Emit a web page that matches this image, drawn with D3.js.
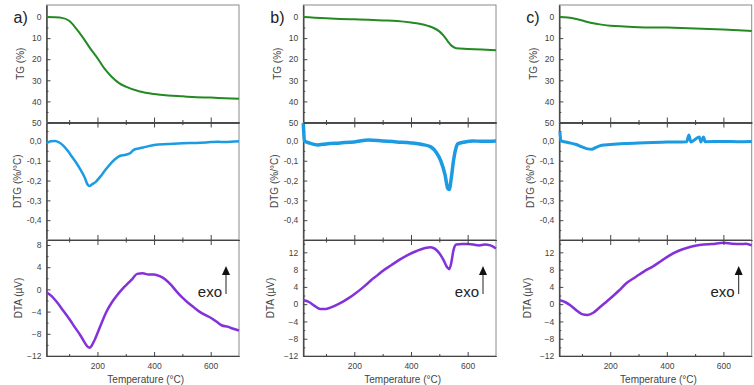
<!DOCTYPE html>
<html>
<head>
<meta charset="utf-8">
<script src="https://cdnjs.cloudflare.com/ajax/libs/d3/7.8.5/d3.min.js"></script>
<style>
body { margin: 0; background: #fff; }
svg text { font-family: "Liberation Sans", Arial, sans-serif; }
</style>
</head>
<body>
<div id="chart"></div>
<script>
// readings: [temperature (°C), value]
var tgA = [[20,0],[50,0.1],[75,0.4],[100,1.8],[125,5.5],[150,10],[175,15],[200,19.5],[225,24.5],[250,28.3],
           [275,31.2],[300,33],[350,35.3],[400,36.5],[450,37.2],[500,37.6],[550,38],[600,38.2],[650,38.5],[700,38.7]];
var tgB = [[20,0],[60,0.3],[100,0.6],[150,0.9],[200,1.1],[250,1.3],[300,1.6],[350,1.9],[400,2.6],[430,3.2],
           [460,4.2],[480,5.2],[500,6.8],[515,8.8],[530,11.5],[545,13.8],[560,14.8],[600,15.1],[650,15.4],[700,15.8]];
var tgC = [[22,0],[50,0.2],[80,0.9],[110,2.0],[140,3.0],[170,3.6],[200,4.1],[250,4.5],[300,4.8],[400,5.0],
           [500,5.4],[600,5.9],[700,6.6]];

var dtgA = [[20,-0.012],[35,-0.002],[50,0],[65,-0.008],[80,-0.025],[95,-0.05],[110,-0.08],[125,-0.11],[140,-0.145],
            [155,-0.185],[165,-0.22],[172,-0.228],[180,-0.22],[195,-0.205],[210,-0.18],[225,-0.152],[240,-0.125],
            [260,-0.095],[280,-0.075],[300,-0.07],[315,-0.062],[328,-0.045],[345,-0.038],[370,-0.03],[400,-0.02],
            [450,-0.016],[500,-0.012],[550,-0.01],[600,-0.006],[625,-0.004],[650,-0.006],[700,-0.002]];
var dtgB = [[20,0.09],[24,0.0],[40,-0.01],[70,-0.02],[100,-0.015],[150,-0.01],[200,-0.005],[250,0.005],[300,0.0],
            [350,-0.005],[400,-0.01],[440,-0.018],[470,-0.03],[490,-0.06],[505,-0.1],[520,-0.17],[530,-0.24],
            [535,-0.245],[542,-0.19],[550,-0.1],[558,-0.04],[565,-0.015],[590,-0.005],[620,0.0],[650,-0.002],[700,0.0]];
var dtgC = [[22,0.05],[26,0.0],[50,-0.008],[80,-0.018],[100,-0.03],[120,-0.04],[135,-0.042],[150,-0.032],[170,-0.022],
            [200,-0.018],[250,-0.013],[300,-0.01],[350,-0.008],[400,-0.006],[470,-0.004],[478,0.03],[485,-0.005],
            [515,0.02],[520,-0.005],[530,0.02],[535,-0.004],[600,-0.003],[650,-0.004],[700,-0.003]];

var dtaA = [[20,-0.5],[40,-1.3],[60,-2.5],[80,-3.9],[100,-5.3],[120,-6.8],[140,-8.3],[155,-9.6],[165,-10.3],[172,-10.5],
            [180,-10.1],[190,-9.1],[200,-7.9],[215,-6],[230,-4.2],[250,-2.4],[270,-1],[290,0.2],[310,1.2],[325,2],
            [340,2.8],[360,2.9],[380,2.7],[400,2.7],[420,2.4],[440,1.8],[460,0.8],[480,-0.4],[500,-1.5],[520,-2.4],
            [540,-3.2],[560,-4],[580,-4.6],[600,-5.1],[620,-5.8],[640,-6.5],[660,-6.7],[680,-7.1],[700,-7.4]];
var dtaB = [[20,0.9],[40,0.5],[60,-0.4],[80,-1.1],[100,-1.1],[120,-0.7],[140,-0.1],[160,0.6],[180,1.4],[200,2.3],
            [220,3.3],[240,4.4],[260,5.6],[280,6.6],[300,7.7],[330,9],[360,10.3],[390,11.4],[420,12.3],[450,13],
            [470,13.2],[485,12.8],[500,11.8],[515,10.2],[528,8.5],[535,8.1],[542,9.5],[550,12.5],[560,13.8],[580,13.9],
            [600,13.9],[620,13.8],[640,13.6],[660,13.8],[680,13.6],[700,12.9]];
var dtaC = [[22,0.9],[40,0.5],[60,-0.3],[80,-1.4],[100,-2.3],[120,-2.5],[140,-2],[160,-0.9],[180,0.2],[200,1.3],
            [230,3.1],[260,5],[290,6.3],[320,7.6],[350,8.7],[380,10],[410,11.3],[440,12.3],[470,13],[500,13.5],
            [530,13.8],[560,13.9],[600,14.2],[630,14],[660,13.9],[680,14],[700,13.6]];

var tempTicks = [200, 400, 600];
var tempMinor = [100, 300, 500];
var tgTicks = [0, 10, 20, 30, 40, 50];
var tgMinor = [5, 15, 25, 35, 45];
var dtgTicks = [0, -0.1, -0.2, -0.3, -0.4];
var dtgMinor = [0.05, -0.05, -0.15, -0.25, -0.35, -0.45];
var dtaTicksA = [8, 4, 0, -4, -8, -12];
var dtaMinorA = [6, 2, -2, -6, -10];
var dtaTicksBC = [12, 8, 4, 0, -4, -8, -12];
var dtaMinorBC = [14, 10, 6, 2, -2, -6, -10];
var panelLabels = ["a)", "b)", "c)"];

var width = 754, height = 385;
var rowTG = [5, 122.5], rowDTG = [122.5, 240], rowDTA = [240, 356];
var axisColor = "#444";

var svg = d3.select("#chart").append("svg")
    .attr("width", width)
    .attr("height", height);

var panels = [
  {label: panelLabels[0], x0: 46.5, x1: 239, tg: tgA, dtg: dtgA, dta: dtaA, dtgWidth: 2.5,
   dtaDomain: [-12, 8.9], dtaTicks: dtaTicksA, dtaMinor: dtaMinorA, dtaTitleOff: 28},
  {label: panelLabels[1], x0: 303.3, x1: 496, tg: tgB, dtg: dtgB, dta: dtaB, dtgWidth: 3.5,
   dtaDomain: [-12, 14.85], dtaTicks: dtaTicksBC, dtaMinor: dtaMinorBC, dtaTitleOff: 33},
  {label: panelLabels[2], x0: 559.3, x1: 751.7, tg: tgC, dtg: dtgC, dta: dtaC, dtgWidth: 3,
   dtaDomain: [-12, 14.85], dtaTicks: dtaTicksBC, dtaMinor: dtaMinorBC, dtaTitleOff: 32}
];

function styleAxis(g) {
  g.selectAll("path").attr("stroke", axisColor);
  g.selectAll("line").attr("stroke", axisColor);
  g.selectAll("text").attr("fill", axisColor).style("font-size", "8.5px");
}

function drawRow(p, x, row, data, domain, ticks, minor, fmt, color, lw, title, titleOff) {
  var y = d3.scaleLinear().domain(domain).range([row[1], row[0]]);

  svg.append("rect")
     .attr("x", p.x0).attr("y", row[0])
     .attr("width", p.x1 - p.x0).attr("height", row[1] - row[0])
     .attr("fill", "none").attr("stroke", "#8a8a8a");

  svg.append("g")
     .attr("transform", "translate(" + p.x0 + ",0)")
     .call(d3.axisLeft(y).tickValues(ticks).tickSize(-4).tickSizeOuter(0).tickPadding(5).tickFormat(fmt))
     .call(styleAxis);
  svg.append("g")
     .attr("transform", "translate(" + p.x0 + ",0)")
     .call(d3.axisLeft(y).tickValues(minor).tickSize(-2).tickSizeOuter(0).tickFormat(""))
     .call(styleAxis);

  var line = d3.line()
      .x(function(d) { return x(d[0]); })
      .y(function(d) { return y(d[1]); })
      .curve(d3.curveMonotoneX);

  svg.append("path")
     .datum(data)
     .attr("d", line)
     .attr("fill", "none")
     .attr("stroke", color)
     .attr("stroke-width", lw)
     .attr("stroke-linejoin", "round");

  svg.append("text")
     .attr("transform", "translate(" + (p.x0 - titleOff) + "," + ((row[0] + row[1]) / 2) + ") rotate(-90)")
     .attr("text-anchor", "middle")
     .attr("dy", "0.35em")
     .attr("fill", axisColor)
     .style("font-size", "10px")
     .text(title);
  return y;
}

function crossTicks(x, yPos) {
  [[tempTicks, 5], [tempMinor, 2.5]].forEach(function(t) {
    svg.append("g")
       .attr("transform", "translate(0," + yPos + ")")
       .call(d3.axisBottom(x).tickValues(t[0]).tickSize(t[1]).tickSizeOuter(0).tickFormat(""))
       .call(styleAxis);
    svg.append("g")
       .attr("transform", "translate(0," + yPos + ")")
       .call(d3.axisTop(x).tickValues(t[0]).tickSize(t[1]).tickSizeOuter(0).tickFormat(""))
       .call(styleAxis);
  });
}

var commaFmt = function(d) { return d.toFixed(1).replace(".", ","); };

panels.forEach(function(p) {
  var x = d3.scaleLinear().domain([20, 700]).range([p.x0, p.x1]);

  drawRow(p, x, rowTG, p.tg, [50, -5.7], tgTicks, tgMinor, d3.format("d"), "#238a23", 2, "TG (%)", 26);
  drawRow(p, x, rowDTG, p.dtg, [-0.5, 0.093], dtgTicks, dtgMinor, commaFmt, "#1c9be2", p.dtgWidth, "DTG (%/°C)", 29);
  drawRow(p, x, rowDTA, p.dta, p.dtaDomain, p.dtaTicks, p.dtaMinor, d3.format("d"), "#8431da", 2.5, "DTA (µV)", p.dtaTitleOff);

  crossTicks(x, rowTG[1]);
  crossTicks(x, rowDTG[1]);

  svg.append("g")
     .attr("transform", "translate(0," + rowDTA[1] + ")")
     .call(d3.axisBottom(x).tickValues(tempTicks).tickSize(-4).tickSizeOuter(0).tickPadding(7).tickFormat(d3.format("d")))
     .call(styleAxis);
  svg.append("g")
     .attr("transform", "translate(0," + rowDTA[1] + ")")
     .call(d3.axisBottom(x).tickValues(tempMinor).tickSize(-2).tickSizeOuter(0).tickFormat(""))
     .call(styleAxis);

  svg.append("text")
     .attr("x", (p.x0 + p.x1) / 2 + 3)
     .attr("y", 383)
     .attr("text-anchor", "middle")
     .attr("fill", axisColor)
     .style("font-size", "10px")
     .text("Temperature (°C)");

  svg.append("text")
     .attr("x", p.x0 - 33)
     .attr("y", 23)
     .attr("fill", "#222")
     .style("font-size", "16px")
     .text(p.label);

  // exo arrow
  var ax = p.x1 - 13;
  svg.append("text")
     .attr("x", ax - 4)
     .attr("y", 297)
     .attr("text-anchor", "end")
     .attr("fill", "#222")
     .style("font-size", "15px")
     .text("exo");
  svg.append("line")
     .attr("x1", ax).attr("x2", ax)
     .attr("y1", 294).attr("y2", 272)
     .attr("stroke", "#222").attr("stroke-width", 1);
  svg.append("path")
     .attr("d", "M" + (ax - 4) + ",275L" + ax + ",266L" + (ax + 4) + ",275Z")
     .attr("fill", "#111");
});
</script>
</body>
</html>
